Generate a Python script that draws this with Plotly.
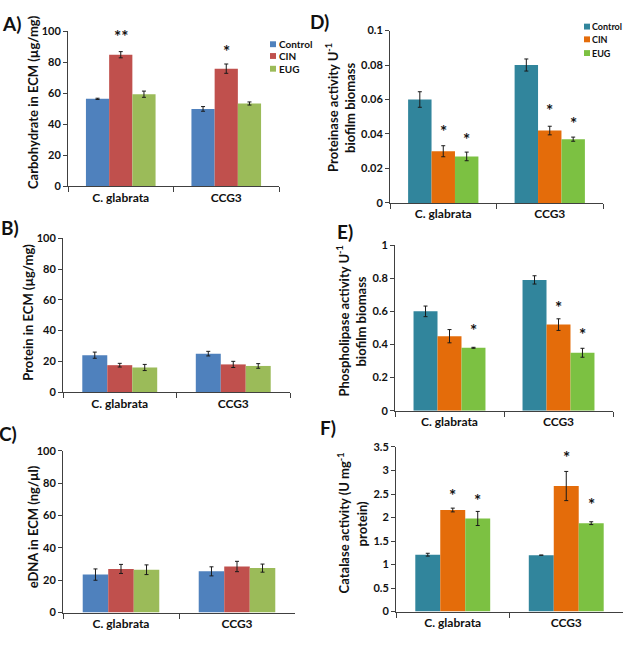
import plotly.graph_objects as go

W, H = 625, 647
FONT = "Lato"

categories = ["C. glabrata", "CCG3"]
series = ["Control", "CIN", "EUG"]

# ---- Panel A: carbohydrate in ECM (µg/mg)
carb_control = [56.5, 50.0]
carb_cin = [85.0, 76.0]
carb_eug = [59.5, 53.5]
carb_control_err = [0.4, 1.5]
carb_cin_err = [2.0, 3.0]
carb_eug_err = [2.0, 1.0]
carb_stars = [("CIN", 0, 97.0, "**"), ("CIN", 1, 87.0, "*")]

# ---- Panel B: protein in ECM (µg/mg)
prot_control = [24.0, 25.0]
prot_cin = [17.5, 18.0]
prot_eug = [16.0, 17.0]
prot_control_err = [2.0, 1.5]
prot_cin_err = [1.2, 2.0]
prot_eug_err = [2.0, 1.5]

# ---- Panel C: eDNA in ECM (ng/µl)
edna_control = [23.5, 25.5]
edna_cin = [27.0, 28.5]
edna_eug = [26.5, 27.5]
edna_control_err = [3.5, 2.8]
edna_cin_err = [2.8, 3.2]
edna_eug_err = [3.0, 2.5]

# ---- Panel D: proteinase activity
pro_control = [0.060, 0.080]
pro_cin = [0.030, 0.042]
pro_eug = [0.027, 0.037]
pro_control_err = [0.0045, 0.0035]
pro_cin_err = [0.0032, 0.0025]
pro_eug_err = [0.0025, 0.0012]
pro_stars = [("CIN", 0, 0.0415, "*"), ("EUG", 0, 0.037, "*"),
             ("CIN", 1, 0.0535, "*"), ("EUG", 1, 0.0460, "*")]

# ---- Panel E: phospholipase activity
pla_control = [0.60, 0.79]
pla_cin = [0.45, 0.52]
pla_eug = [0.38, 0.35]
pla_control_err = [0.032, 0.025]
pla_cin_err = [0.04, 0.035]
pla_eug_err = [0.003, 0.027]
pla_stars = [("EUG", 0, 0.485, "*"), ("CIN", 1, 0.625, "*"), ("EUG", 1, 0.46, "*")]

# ---- Panel F: catalase activity
cat_control = [1.21, 1.20]
cat_cin = [2.16, 2.67]
cat_eug = [1.98, 1.88]
cat_control_err = [0.03, 0.0]
cat_cin_err = [0.04, 0.31]
cat_eug_err = [0.15, 0.03]
cat_stars = [("CIN", 0, 2.47, "*"), ("EUG", 0, 2.37, "*"),
             ("CIN", 1, 3.28, "*"), ("EUG", 1, 2.28, "*")]

LEFT_COLORS = ["#4F81BD", "#C0504D", "#9BBB59"]
RIGHT_COLORS = ["#31859C", "#E46C0A", "#7CC142"]


def px_x(p):
    return p / W


def px_y(p):
    return 1 - p / H


panels = [
    dict(label="A)", lab_xy=(11, 17),
         vals=[carb_control, carb_cin, carb_eug],
         errs=[carb_control_err, carb_cin_err, carb_eug_err],
         stars=carb_stars, colors=LEFT_COLORS,
         dom=(68, 279, 25, 183), yr=(0, 100), dtick=20,
         title="Carbohydrate in ECM (µg/mg)", title_x=[33], title_yc=97),
    dict(label="B)", lab_xy=(10, 225),
         vals=[prot_control, prot_cin, prot_eug],
         errs=[prot_control_err, prot_cin_err, prot_eug_err],
         stars=[], colors=LEFT_COLORS,
         dom=(63, 290, 236, 393), yr=(0, 100), dtick=20,
         title="Protein in ECM (µg/mg)", title_x=[28], title_yc=312),
    dict(label="C)", lab_xy=(8, 435),
         vals=[edna_control, edna_cin, edna_eug],
         errs=[edna_control_err, edna_cin_err, edna_eug_err],
         stars=[], colors=LEFT_COLORS,
         dom=(63, 295, 453, 618), yr=(0, 100), dtick=20,
         title="eDNA in ECM (ng/µl)", title_x=[33], title_yc=531),
    dict(label="D)", lab_xy=(319, 15),
         vals=[pro_control, pro_cin, pro_eug],
         errs=[pro_control_err, pro_cin_err, pro_eug_err],
         stars=pro_stars, colors=RIGHT_COLORS,
         dom=(390, 603, 24, 200), yr=(0, 0.1), dtick=0.02,
         title=["Proteinase activity U<sup>-1</sup>", "biofilm biomass"],
         title_x=[332, 350], title_yc=103),
    dict(label="E)", lab_xy=(345, 229),
         vals=[pla_control, pla_cin, pla_eug],
         errs=[pla_control_err, pla_cin_err, pla_eug_err],
         stars=pla_stars, colors=RIGHT_COLORS,
         dom=(395, 613, 243, 412), yr=(0, 1), dtick=0.2,
         title=["Phospholipase activity U<sup>-1</sup>", "biofilm biomass"],
         title_x=[343, 361], title_yc=321),
    dict(label="F)", lab_xy=(328, 429),
         vals=[cat_control, cat_cin, cat_eug],
         errs=[cat_control_err, cat_cin_err, cat_eug_err],
         stars=cat_stars, colors=RIGHT_COLORS,
         dom=(396, 623, 449, 617), yr=(0, 3.5), dtick=0.5,
         title=["Catalase activity (U mg<sup>-1</sup>", "protein)"],
         title_x=[343, 362], title_yc=527),
]

fig = go.Figure()
annotations = []
shapes = []
layout = {}

GROUP = 0.66
BARW = GROUP / 3

for i, p in enumerate(panels):
    n = i + 1
    xa = "x" if n == 1 else f"x{n}"
    ya = "y" if n == 1 else f"y{n}"
    for s, name in enumerate(series):
        fig.add_trace(go.Bar(
            x=categories, y=p["vals"][s], name=name,
            marker=dict(color=p["colors"][s], line=dict(width=0)),
            error_y=dict(type="data", array=p["errs"][s], color="#1a1a1a",
                         thickness=1, width=2),
            xaxis=xa, yaxis=ya, showlegend=False,
        ))
    x0, x1, y0, y1 = p["dom"]
    layout["xaxis" if n == 1 else f"xaxis{n}"] = dict(
        domain=[px_x(x0), px_x(x1)], anchor=ya, type="category",
        showline=True, linecolor="#404040", linewidth=1,
        ticks="outside", ticklen=5, tickcolor="#404040", tickson="boundaries",
        showgrid=False, zeroline=False, fixedrange=True,
        tickfont=dict(family=FONT, size=12, color="#111", weight="bold"),
    )
    layout["yaxis" if n == 1 else f"yaxis{n}"] = dict(
        domain=[px_y(y1), px_y(y0)], anchor=xa, range=list(p["yr"]),
        dtick=p["dtick"], tick0=0,
        showline=True, linecolor="#404040", linewidth=1,
        ticks="outside", ticklen=4, tickcolor="#404040",
        showgrid=False, zeroline=False,
        tickfont=dict(family=FONT, size=11, color="#111", weight="bold"),
    )
    # panel label
    lx, ly = p["lab_xy"]
    annotations.append(dict(
        text="<b>" + p["label"] + "</b>", xref="paper", yref="paper",
        x=px_x(lx), y=px_y(ly), xanchor="center", yanchor="middle",
        showarrow=False, font=dict(family=FONT, size=19, color="#111")))
    # y title
    titles = p["title"] if isinstance(p["title"], list) else [p["title"]]
    for t, tx in zip(titles, p["title_x"]):
        annotations.append(dict(
            text="<b>" + t + "</b>", xref="paper", yref="paper",
            x=px_x(tx), y=px_y(p["title_yc"]), xanchor="center", yanchor="middle",
            textangle=-90, showarrow=False,
            font=dict(family=FONT, size=13, color="#111")))
    # significance stars
    for (sname, cat_idx, yv, txt) in p["stars"]:
        s = series.index(sname)
        annotations.append(dict(
            text="<b>" + txt + "</b>", xref=xa, yref=ya,
            x=cat_idx + (s - 1) * BARW, y=yv, xanchor="center", yanchor="middle",
            showarrow=False, font=dict(family=FONT, size=17, color="#111")))


# legends (A: left colours, D: right colours)
def add_legend(x_sq, x_txt, ys, colors, size):
    for name, yy, c in zip(series, ys, colors):
        shapes.append(dict(type="rect", xref="paper", yref="paper",
                           x0=px_x(x_sq), x1=px_x(x_sq + 6),
                           y0=px_y(yy + 3), y1=px_y(yy - 3),
                           fillcolor=c, line=dict(width=0)))
        annotations.append(dict(
            text="<b>" + name + "</b>", xref="paper", yref="paper",
            x=px_x(x_txt), y=px_y(yy), xanchor="left", yanchor="middle",
            showarrow=False, font=dict(family=FONT, size=size, color="#111")))


add_legend(270, 277, [38, 50, 63], LEFT_COLORS, 10)
add_legend(584, 590, [20, 33, 47], RIGHT_COLORS, 9)

fig.update_layout(
    width=W, height=H,
    margin=dict(l=0, r=0, t=0, b=0),
    paper_bgcolor="white", plot_bgcolor="white",
    barmode="group", bargap=0.34, bargroupgap=0,
    font=dict(family=FONT, color="#111"),
    annotations=annotations, shapes=shapes,
    showlegend=False,
    **layout,
)

fig.write_html(
    "out.html",
    config={"displayModeBar": False},
    post_script="document.body.style.margin='0';document.body.style.overflow='hidden';",
)
